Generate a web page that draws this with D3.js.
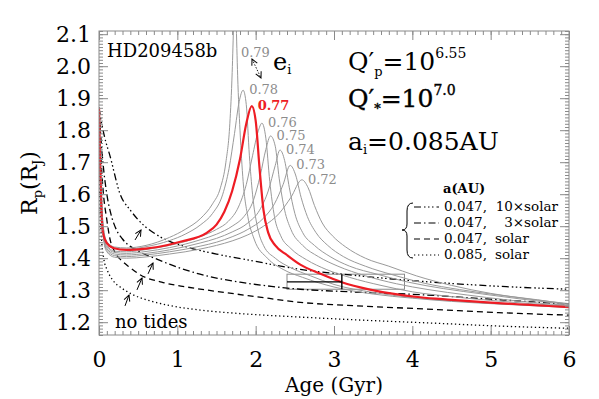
<!DOCTYPE html>
<html lang="en">
<head>
<meta charset="UTF-8">
<title>HD209458b radius evolution</title>
<script src="https://unpkg.com/d3@7.8.5/dist/d3.min.js"></script>
<style>
  * { margin: 0; padding: 0; box-sizing: border-box; }
  body { background: #fff; }
  svg { display: block; font-family: "DejaVu Serif", serif; }
</style>
</head>
<body>
<svg class="cc" width="599" height="399"></svg>
<script>
// ---- data ----
const xTicks = [0, 1, 2, 3, 4, 5, 6]
const yTicks = [1.2, 1.3, 1.4, 1.5, 1.6, 1.7, 1.8, 1.9, 2.0, 2.1]

// initial eccentricities (label text)
const eLabels = ['0.79', '0.78', '0.77', '0.76', '0.75', '0.74', '0.73', '0.72']

// [age Gyr, radius R_J]
const e79 = [[0,1.87],[0.01,1.76],[0.03,1.6],[0.06,1.49],[0.1,1.452],[0.2,1.435],[0.35,1.432],[0.6,1.44],[0.9,1.465],[1.1,1.49],[1.3,1.525],[1.45,1.57],[1.55,1.62],[1.62,1.7],[1.67,1.82],[1.7,1.98],[1.72,2.15],[1.735,2.3],[1.75,2.15],[1.77,1.97],[1.8,1.8],[1.84,1.64],[1.9,1.53],[1.98,1.46],[2.15,1.4],[2.35,1.365],[2.6,1.34],[3.0,1.31],[3.5,1.288],[4.0,1.275],[4.5,1.265],[5.0,1.258],[5.5,1.252],[6.0,1.246]]
const e78 = [[0,1.87],[0.01,1.755],[0.03,1.59],[0.06,1.485],[0.1,1.45],[0.2,1.43],[0.35,1.428],[0.6,1.436],[0.9,1.455],[1.1,1.475],[1.3,1.505],[1.45,1.54],[1.58,1.6],[1.66,1.68],[1.73,1.79],[1.79,1.89],[1.84,1.925],[1.88,1.88],[1.92,1.72],[1.96,1.6],[2.02,1.5],[2.1,1.44],[2.25,1.4],[2.45,1.37],[2.7,1.345],[3.0,1.318],[3.5,1.293],[4.0,1.277],[4.5,1.267],[5.0,1.259],[5.5,1.253],[6.0,1.247]]
const e77 = [[0,1.87],[0.01,1.75],[0.03,1.56],[0.05,1.48],[0.1,1.447],[0.18,1.432],[0.35,1.426],[0.6,1.43],[0.75,1.435],[1.05,1.452],[1.38,1.48],[1.5,1.505],[1.6,1.545],[1.7,1.61],[1.8,1.71],[1.88,1.82],[1.95,1.875],[2.0,1.83],[2.05,1.68],[2.1,1.55],[2.16,1.48],[2.25,1.44],[2.4,1.41],[2.57,1.38],[2.82,1.352],[3.1,1.325],[3.46,1.302],[4.1,1.278],[4.5,1.27],[5.0,1.261],[5.5,1.254],[6.0,1.247]]
const e76 = [[0,1.87],[0.01,1.745],[0.03,1.575],[0.06,1.475],[0.1,1.44],[0.2,1.422],[0.35,1.42],[0.6,1.427],[0.9,1.44],[1.1,1.452],[1.3,1.468],[1.5,1.49],[1.65,1.515],[1.78,1.56],[1.88,1.63],[1.96,1.72],[2.03,1.795],[2.08,1.822],[2.13,1.775],[2.18,1.64],[2.24,1.53],[2.32,1.47],[2.45,1.43],[2.65,1.395],[2.9,1.365],[3.2,1.34],[3.6,1.315],[4.0,1.295],[4.5,1.28],[5.0,1.268],[5.5,1.258],[6.0,1.25]]
const e75 = [[0,1.87],[0.01,1.74],[0.03,1.57],[0.06,1.47],[0.1,1.435],[0.2,1.418],[0.35,1.415],[0.6,1.421],[0.9,1.433],[1.1,1.444],[1.3,1.458],[1.5,1.475],[1.7,1.5],[1.85,1.53],[1.97,1.58],[2.06,1.66],[2.13,1.74],[2.19,1.782],[2.25,1.75],[2.3,1.65],[2.37,1.55],[2.45,1.49],[2.6,1.44],[2.8,1.405],[3.05,1.375],[3.4,1.345],[3.8,1.32],[4.2,1.302],[4.7,1.285],[5.2,1.27],[5.6,1.26],[6.0,1.252]]
const e74 = [[0,1.87],[0.01,1.735],[0.03,1.565],[0.06,1.465],[0.1,1.43],[0.2,1.413],[0.35,1.41],[0.6,1.415],[0.9,1.426],[1.1,1.436],[1.3,1.448],[1.5,1.462],[1.7,1.482],[1.9,1.51],[2.05,1.55],[2.16,1.61],[2.25,1.69],[2.31,1.738],[2.37,1.705],[2.43,1.62],[2.5,1.54],[2.6,1.48],[2.75,1.44],[2.95,1.405],[3.2,1.375],[3.55,1.35],[3.95,1.325],[4.4,1.305],[4.9,1.288],[5.4,1.272],[6.0,1.255]]
const e73 = [[0,1.87],[0.01,1.73],[0.03,1.56],[0.06,1.46],[0.1,1.425],[0.2,1.408],[0.35,1.405],[0.6,1.41],[0.9,1.42],[1.1,1.428],[1.3,1.438],[1.5,1.45],[1.7,1.467],[1.9,1.49],[2.1,1.525],[2.24,1.57],[2.35,1.63],[2.44,1.69],[2.51,1.66],[2.58,1.59],[2.66,1.53],[2.77,1.48],[2.92,1.44],[3.12,1.405],[3.4,1.375],[3.75,1.348],[4.15,1.322],[4.6,1.302],[5.1,1.285],[5.6,1.27],[6.0,1.256]]
const e72 = [[0,1.87],[0.01,1.725],[0.03,1.555],[0.06,1.455],[0.1,1.42],[0.2,1.403],[0.35,1.4],[0.6,1.404],[0.9,1.413],[1.1,1.42],[1.3,1.429],[1.5,1.44],[1.7,1.454],[1.9,1.473],[2.1,1.5],[2.3,1.54],[2.45,1.59],[2.59,1.645],[2.67,1.62],[2.75,1.565],[2.85,1.51],[2.98,1.47],[3.15,1.435],[3.4,1.4],[3.7,1.375],[4.05,1.345],[4.5,1.315],[5.0,1.29],[5.5,1.272],[6.0,1.258]]
const eCurves = [e79, e78, e77, e76, e75, e74, e73, e72]

// circular-orbit reference tracks
const a047x10 = [[0,1.87],[0.02,1.84],[0.07,1.78],[0.14,1.72],[0.27,1.6],[0.4,1.55],[0.52,1.515],[0.78,1.467],[1.12,1.435],[1.5,1.413],[2.0,1.39],[2.57,1.365],[3.2,1.348],[3.84,1.333],[4.5,1.321],[5.2,1.311],[6.0,1.303]]
const a047x3 = [[0,1.87],[0.02,1.79],[0.05,1.7],[0.1,1.6],[0.15,1.54],[0.22,1.49],[0.3,1.46],[0.52,1.42],[0.74,1.397],[1.0,1.372],[1.29,1.35],[1.8,1.325],[2.2,1.312],[2.57,1.303],[3.2,1.295],[4.1,1.286],[5.0,1.272],[6.0,1.256]]
const a047sol = [[0,1.87],[0.02,1.74],[0.05,1.62],[0.1,1.52],[0.14,1.46],[0.2,1.42],[0.3,1.39],[0.4,1.37],[0.52,1.349],[0.8,1.325],[1.12,1.31],[1.6,1.293],[2.0,1.28],[2.57,1.262],[3.4,1.25],[4.27,1.24],[5.1,1.23],[6.0,1.222]]
const a085sol = [[0,1.87],[0.01,1.6],[0.03,1.47],[0.06,1.4],[0.11,1.36],[0.18,1.33],[0.3,1.305],[0.45,1.284],[0.65,1.267],[0.9,1.252],[1.29,1.238],[1.8,1.227],[2.57,1.216],[3.4,1.206],[4.27,1.197],[5.1,1.188],[6.0,1.181]]
const tracks = [a047x10, a047x3, a047sol, a085sol]
const trackLabels = [['0.047,', '10×solar'], ['0.047,', '3×solar'], ['0.047,', 'solar'], ['0.085,', 'solar']]

// observed age and radius box
const obsAge = [2.4, 3.1, 3.9]
const obsR = [1.303, 1.326, 1.35]

// small arrows pointing from "no tides" to the tracks: [t0, R0, t1, R1]
const trackArrows = [[0.46,1.457,0.536,1.488],[0.626,1.351,0.689,1.385],[0.485,1.301,0.549,1.338],[0.332,1.251,0.383,1.285]]

// ---- drawing ----
const svg = d3.select('svg')
const L = 99, R = 569, T = 31, B = 335
const x = d3.scaleLinear().domain([0, 6]).range([L, R])
const y = d3.scaleLinear().domain([1.16, 2.11]).range([B, T])
const axisColor = '#8a8a8a'
const grayLine = '#9a9a9a'
const red = '#ee1c24'
const serif = '"DejaVu Serif", serif'

const dashes = ['7,3,1.5,2.5,1.5,2.5,1.5,3', '7,3,1.5,3', '6,4', '1.3,2.7']

const defs = svg.append('defs')
defs.append('clipPath').attr('id', 'plot')
  .append('rect').attr('x', L).attr('y', T).attr('width', R - L).attr('height', B - T)
defs.append('marker').attr('id', 'arr')
  .attr('viewBox', '0 0 8 8').attr('refX', 7).attr('refY', 4)
  .attr('markerWidth', 8).attr('markerHeight', 8).attr('markerUnits', 'userSpaceOnUse')
  .attr('orient', 'auto-start-reverse')
  .append('path').attr('d', 'M1,1 L7,4 L1,7').attr('fill', 'none').attr('stroke', '#000').attr('stroke-width', 1)

const line = d3.line().x(d => x(d[0])).y(d => y(d[1])).curve(d3.curveMonotoneX)

const plot = svg.append('g').attr('clip-path', 'url(#plot)')

// observation box (under the curves)
plot.append('rect')
  .attr('x', x(obsAge[0])).attr('y', y(obsR[2]))
  .attr('width', x(obsAge[2]) - x(obsAge[0])).attr('height', y(obsR[0]) - y(obsR[2]))
  .attr('fill', 'none').attr('stroke', '#8a8a8a').attr('stroke-width', 1)

// black tracks
tracks.forEach((d, i) => {
  plot.append('path').datum(d).attr('d', line)
    .attr('fill', 'none').attr('stroke', '#000').attr('stroke-width', 1.3)
    .attr('stroke-dasharray', dashes[i])
})

// gray eccentricity curves, red one on top
eCurves.forEach((d, i) => {
  if (eLabels[i] === '0.77') return
  plot.append('path').datum(d).attr('d', line)
    .attr('fill', 'none').attr('stroke', grayLine).attr('stroke-width', 1)
})
plot.append('path').datum(e77).attr('d', line)
  .attr('fill', 'none').attr('stroke', red).attr('stroke-width', 2.2)

// error bars
svg.append('line').attr('x1', x(obsAge[1])).attr('x2', x(obsAge[1]))
  .attr('y1', y(obsR[0])).attr('y2', y(obsR[2])).attr('stroke', '#000').attr('stroke-width', 1.4)
svg.append('line').attr('x1', x(obsAge[0])).attr('x2', x(obsAge[1]))
  .attr('y1', y(obsR[1])).attr('y2', y(obsR[1])).attr('stroke', '#000').attr('stroke-width', 1.4)

// axes: ticks point inward
function styleAxis(g) {
  g.attr('font-family', serif)
  g.select('.domain').remove()
  g.selectAll('line').attr('stroke', axisColor)
  g.selectAll('text').attr('fill', '#000')
}
const xMinor = d3.range(0, 61).map(d => d / 10)
const yMinor = d3.range(116, 212).map(d => d / 100)

svg.append('g').attr('transform', `translate(0,${B})`)
  .call(d3.axisBottom(x).tickValues(xMinor).tickSize(-4).tickFormat(''))
  .call(styleAxis)
svg.append('g').attr('transform', `translate(0,${B})`)
  .call(d3.axisBottom(x).tickValues(xTicks).tickSize(-9).tickPadding(16).tickFormat(d3.format('d')))
  .call(styleAxis)
  .attr('font-size', 22)
svg.append('g').attr('transform', `translate(0,${T})`)
  .call(d3.axisTop(x).tickValues(xMinor).tickSize(-4).tickFormat(''))
  .call(styleAxis)
svg.append('g').attr('transform', `translate(0,${T})`)
  .call(d3.axisTop(x).tickValues(xTicks).tickSize(-9).tickFormat(''))
  .call(styleAxis)

svg.append('g').attr('transform', `translate(${L},0)`)
  .call(d3.axisLeft(y).tickValues(yMinor).tickSize(-4).tickFormat(''))
  .call(styleAxis)
svg.append('g').attr('transform', `translate(${L},0)`)
  .call(d3.axisLeft(y).tickValues(yTicks).tickSize(-9).tickPadding(8).tickFormat(d3.format('.1f')))
  .call(styleAxis)
  .attr('font-size', 22)
svg.append('g').attr('transform', `translate(${R},0)`)
  .call(d3.axisRight(y).tickValues(yMinor).tickSize(-4).tickFormat(''))
  .call(styleAxis)
svg.append('g').attr('transform', `translate(${R},0)`)
  .call(d3.axisRight(y).tickValues(yTicks).tickSize(-9).tickFormat(''))
  .call(styleAxis)

svg.append('rect').attr('x', L).attr('y', T).attr('width', R - L).attr('height', B - T)
  .attr('fill', 'none').attr('stroke', axisColor).attr('stroke-width', 1)

// axis titles
svg.append('text').attr('x', (L + R) / 2).attr('y', 392).attr('text-anchor', 'middle')
  .attr('font-size', 20).text('Age (Gyr)')

const yt = svg.append('text').attr('transform', `translate(37,${(T + B) / 2}) rotate(-90)`)
  .attr('text-anchor', 'middle').attr('font-size', 22)
yt.append('tspan').text('R')
yt.append('tspan').attr('font-size', 13).attr('dy', 5).text('p')
yt.append('tspan').attr('dy', -5).text('(R')
yt.append('tspan').attr('font-size', 13).attr('dy', 5).text('J')
yt.append('tspan').attr('dy', -5).text(')')

// eccentricity labels next to each resonance peak (skip the t=0 start)
eCurves.forEach((d, i) => {
  const pk = d3.greatest(d.filter(p => p[0] > 1), (a, b) => a[1] - b[1])
  const is77 = eLabels[i] === '0.77'
  svg.append('text')
    .attr('x', x(pk[0]) + 6)
    .attr('y', Math.max(y(pk[1]) + 4, 57))
    .attr('font-size', 13)
    .attr('font-weight', is77 ? 'bold' : 'normal')
    .attr('fill', is77 ? red : '#8c8c8c')
    .text(eLabels[i])
})

// e_i with double arrow
svg.append('line').attr('x1', 252).attr('y1', 59).attr('x2', 261).attr('y2', 78)
  .attr('stroke', '#000').attr('stroke-width', 0.9).attr('stroke-dasharray', '1.5,1.5')
  .attr('marker-start', 'url(#arr)').attr('marker-end', 'url(#arr)')
const ei = svg.append('text').attr('x', 273).attr('y', 70).attr('font-size', 24)
ei.append('tspan').text('e')
ei.append('tspan').attr('font-size', 13).attr('dy', 4).text('i')

svg.append('text').attr('x', 107).attr('y', 57).attr('font-size', 18).text('HD209458b')

// parameter block
const q1 = svg.append('text').attr('x', 348).attr('y', 70).attr('font-size', 25)
q1.append('tspan').text('Q′')
q1.append('tspan').attr('font-size', 13).attr('dy', 6).text('p')
q1.append('tspan').attr('dy', -6).text('=10')
q1.append('tspan').attr('font-size', 14).attr('dy', -12).text('6.55')

const q2 = svg.append('text').attr('x', 348).attr('y', 107).attr('font-size', 25)
  .attr('stroke', '#000').attr('stroke-width', 0.4)
q2.append('tspan').text('Q′')
q2.append('tspan').attr('font-size', 13).attr('dy', 6).text('*')
q2.append('tspan').attr('dy', -6).text('=10')
q2.append('tspan').attr('font-size', 14).attr('dy', -12).text('7.0')

const a1 = svg.append('text').attr('x', 348).attr('y', 150).attr('font-size', 25)
a1.append('tspan').text('a')
a1.append('tspan').attr('font-size', 13).attr('dy', 4).text('i')
a1.append('tspan').attr('dy', -4).text('=0.085AU')

// "no tides" and arrows
svg.append('text').attr('x', 115).attr('y', 328).attr('font-size', 18).text('no tides')
trackArrows.forEach(a => {
  svg.append('line')
    .attr('x1', x(a[0])).attr('y1', y(a[1])).attr('x2', x(a[2])).attr('y2', y(a[3]))
    .attr('stroke', '#000').attr('stroke-width', 1).attr('marker-end', 'url(#arr)')
})

// legend
const lg = svg.append('g').attr('font-size', 13.5)
lg.append('text').attr('x', 443).attr('y', 193).attr('font-weight', 'bold').attr('font-size', 13).text('a(AU)')
trackLabels.forEach((t, i) => {
  const ry = 211 + i * 16
  lg.append('line').attr('x1', 414).attr('x2', 439).attr('y1', ry - 4).attr('y2', ry - 4)
    .attr('stroke', '#000').attr('stroke-width', 1.2).attr('stroke-dasharray', dashes[i])
  lg.append('text').attr('x', 444).attr('y', ry).text(t[0])
  if (t[1] === 'solar') {
    lg.append('text').attr('x', 495).attr('y', ry).text(t[1])
  } else {
    lg.append('text').attr('x', 558).attr('y', ry).attr('text-anchor', 'end').text(t[1])
  }
})
lg.append('path')
  .attr('d', 'M413,203 Q407,203 407,211 L407,224 Q407,230 402,230 Q407,230 407,236 L407,250 Q407,258 413,258')
  .attr('fill', 'none').attr('stroke', '#000').attr('stroke-width', 1)
</script>
</body>
</html>
